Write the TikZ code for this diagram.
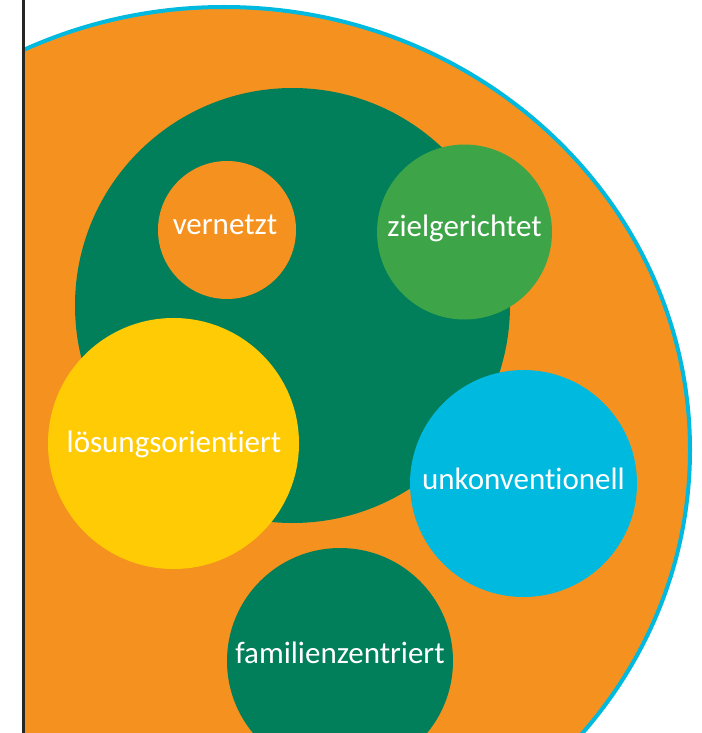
\documentclass[tikz,border=0pt]{standalone}
\usepackage{fontspec}
\setmainfont{Carlito}[Ligatures={NoCommon}]
\definecolor{cOrange}{HTML}{F5921F}
\definecolor{cDark}{HTML}{007F5A}
\definecolor{cGreen}{HTML}{3DA548}
\definecolor{cYellow}{HTML}{FFCB05}
\definecolor{cCyan}{HTML}{00B9DF}
\tikzset{
  bubble/.style={circle, inner sep=0pt, minimum size=#1},
  lbl/.style={text=white, anchor=base, inner sep=0pt, font=\fontsize{31}{37}\selectfont}
}
\begin{document}
\begin{tikzpicture}[x=1pt,y=-1pt]
\useasboundingbox (0,0) rectangle (701,733);
\begin{scope}
  \clip (23.3,0) rectangle (701,733);
  \fill[cOrange] (224,450) ellipse [x radius=466, y radius=443];
  \draw[cCyan, line width=4pt] (224,450) ellipse [x radius=466, y radius=443];
  \node[bubble=435pt, fill=cDark] (kern) at (292.5,305.5) {};
  \node[bubble=138pt, fill=cOrange] (vern) at (227,230) {};
  \node[bubble=175pt, fill=cGreen] (ziel) at (464.5,232) {};
  \node[bubble=251pt, fill=cYellow] (loes) at (173.5,443.5) {};
  \node[bubble=227pt, fill=cCyan] (unk) at (523.5,483.5) {};
  \node[bubble=226pt, fill=cDark] (fam) at (340,661) {};
  \node[lbl] (tvern) at (225,234) {vernetzt};
  \node[lbl] (tziel) at (464.5,236) {zielgerichtet};
  \node[lbl] (tloes) at (174,452) {lösungsorientiert};
  \node[lbl] (tunk) at (523.5,489) {unkonventionell};
  \node[lbl] (tfam) at (340,663) {familienzentriert};
\end{scope}
\draw[black!85, line width=2.5pt] (23.3,0) -- (23.3,733);
\end{tikzpicture}
\end{document}
